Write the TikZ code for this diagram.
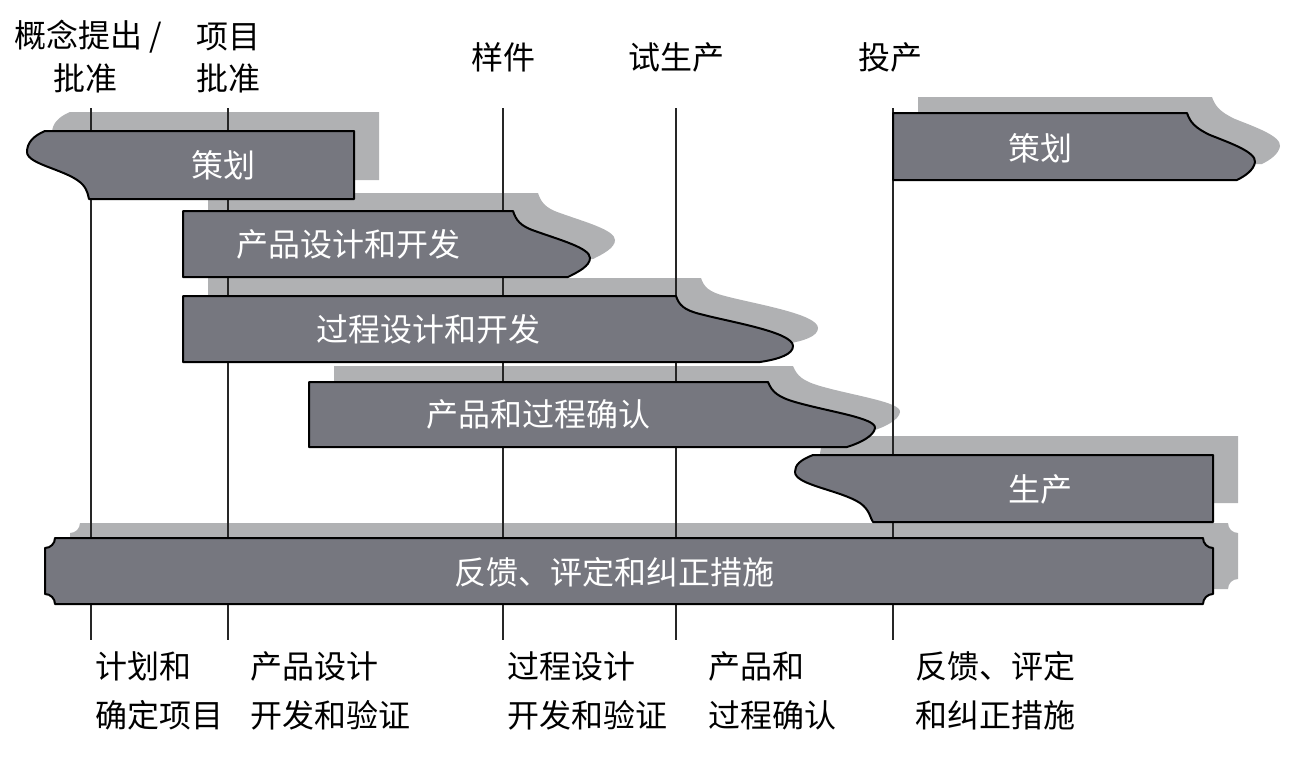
\documentclass[tikz,border=0pt]{standalone}
\usepackage{fontspec}
\setmainfont{Noto Sans CJK SC}
\definecolor{barfill}{RGB}{118,119,127}
\definecolor{shadowc}{RGB}{176,177,179}
\newcommand\shpA{(354,131) -- (45,131) .. controls (33,136) and (27,143) .. (27,152) .. controls (27,165) and (70,170) .. (83,185) .. controls (88,191) and (88,196) .. (89,199) -- (354,199) -- cycle}
\newcommand\shpB{(183,211) -- (513,211) .. controls (516,220) and (520,226) .. (535,231) .. controls (560,240) and (590,248) .. (590,258) .. controls (590,266) and (578,272) .. (568,277) -- (183,277) -- cycle}
\newcommand\shpC{(183,296) -- (676,296) .. controls (679,305) and (684,310) .. (700,314) .. controls (730,322) and (793,332) .. (793,346) .. controls (793,354) and (780,359) .. (760,362) -- (183,362) -- cycle}
\newcommand\shpD{(309,382) -- (768,382) .. controls (772,392) and (778,397) .. (795,402) .. controls (830,412) and (876,418) .. (875,428) .. controls (874,436) and (860,443) .. (847,447) -- (309,447) -- cycle}
\newcommand\shpE{(1213,455) -- (813,455) .. controls (800,460) and (795,465) .. (795,472) .. controls (795,485) and (840,490) .. (860,503) .. controls (870,510) and (870,518) .. (873,522) -- (1213,522) -- cycle}
\newcommand\shpF{(55,538) -- (1203,538) .. controls (1203,543.5) and (1207.5,548) .. (1213,548) -- (1213,594) .. controls (1207.5,594) and (1203,598.5) .. (1203,604) -- (55,604) .. controls (55,598.5) and (50.5,594) .. (45,594) -- (45,548) .. controls (50.5,548) and (55,543.5) .. (55,538) -- cycle}
\newcommand\shpG{(893,113) -- (1187,113) .. controls (1190,122) and (1195,128) .. (1210,135) .. controls (1230,143) and (1256,152) .. (1255,162) .. controls (1254,170) and (1245,176) .. (1237,180) -- (893,180) -- cycle}
\begin{document}
\begin{tikzpicture}[x=0.5pt,y=-0.5pt,
  shadowfill/.style={fill=shadowc},
  barshape/.style={fill=barfill,draw=black,line width=1pt,line join=round},
  vline/.style={draw=black!85,line width=0.9pt},
  bartext/.style={text=white,font=\fontsize{16pt}{20pt}\selectfont,inner sep=0pt},
  toptext/.style={text=black,font=\fontsize{16pt}{20pt}\selectfont,inner sep=0pt},
  bottext/.style={text=black,font=\fontsize{16pt}{24.5pt}\selectfont,inner sep=0pt,anchor=north west,align=left}]
\useasboundingbox (0,0) rectangle (1290,760);
% shadows
\fill[shadowfill,shift={(25,-19)}] \shpA;
\fill[shadowfill,shift={(25,-18)}] \shpB;
\fill[shadowfill,shift={(25,-18)}] \shpC;
\fill[shadowfill,shift={(25,-16)}] \shpD;
\fill[shadowfill,shift={(25,-19)}] \shpE;
\fill[shadowfill,shift={(25,-15)}] \shpF;
\fill[shadowfill,shift={(25,-16)}] \shpG;
% milestone lines
\coordinate (t1) at (91,108);  \coordinate (b1) at (91,640);
\coordinate (t2) at (228,108); \coordinate (b2) at (228,640);
\coordinate (t3) at (503,108); \coordinate (b3) at (503,640);
\coordinate (t4) at (676,108); \coordinate (b4) at (676,640);
\coordinate (t5) at (893,108); \coordinate (b5) at (893,640);
\draw[vline] (t1) -- (b1);
\draw[vline] (t2) -- (b2);
\draw[vline] (t3) -- (b3);
\draw[vline] (t4) -- (b4);
\draw[vline] (t5) -- (b5);
% bars
\filldraw[barshape] \shpA;
\filldraw[barshape] \shpB;
\filldraw[barshape] \shpC;
\filldraw[barshape] \shpD;
\filldraw[barshape] \shpE;
\filldraw[barshape] \shpF;
\filldraw[barshape] \shpG;
% bar texts
\node[bartext] (pA) at (223,165) {策划};
\node[bartext] (pB) at (348,244) {产品设计和开发};
\node[bartext] (pC) at (428,329) {过程设计和开发};
\node[bartext] (pD) at (538,414) {产品和过程确认};
\node[bartext] (pE) at (1040,489) {生产};
\node[bartext] (pF) at (614,572) {反馈、评定和纠正措施};
\node[bartext] (pG) at (1040,148) {策划};
% top labels
\node[toptext] (m1a) at (88,37) {概念提出 /};
\node[toptext] (m1b) at (86,78) {批准};
\node[toptext] (m2a) at (228,37) {项目};
\node[toptext] (m2b) at (228,78) {批准};
\node[toptext] (m3) at (503,57) {样件};
\node[toptext] (m4) at (676,57) {试生产};
\node[toptext] (m5) at (890,57) {投产};
% bottom labels
\node[bottext] (s1) at (95,651) {计划和\\确定项目};
\node[bottext] (s2) at (250,651) {产品设计\\开发和验证};
\node[bottext] (s3) at (507,651) {过程设计\\开发和验证};
\node[bottext] (s4) at (708,651) {产品和\\过程确认};
\node[bottext] (s5) at (915,651) {反馈、评定\\和纠正措施};
\end{tikzpicture}
\end{document}
